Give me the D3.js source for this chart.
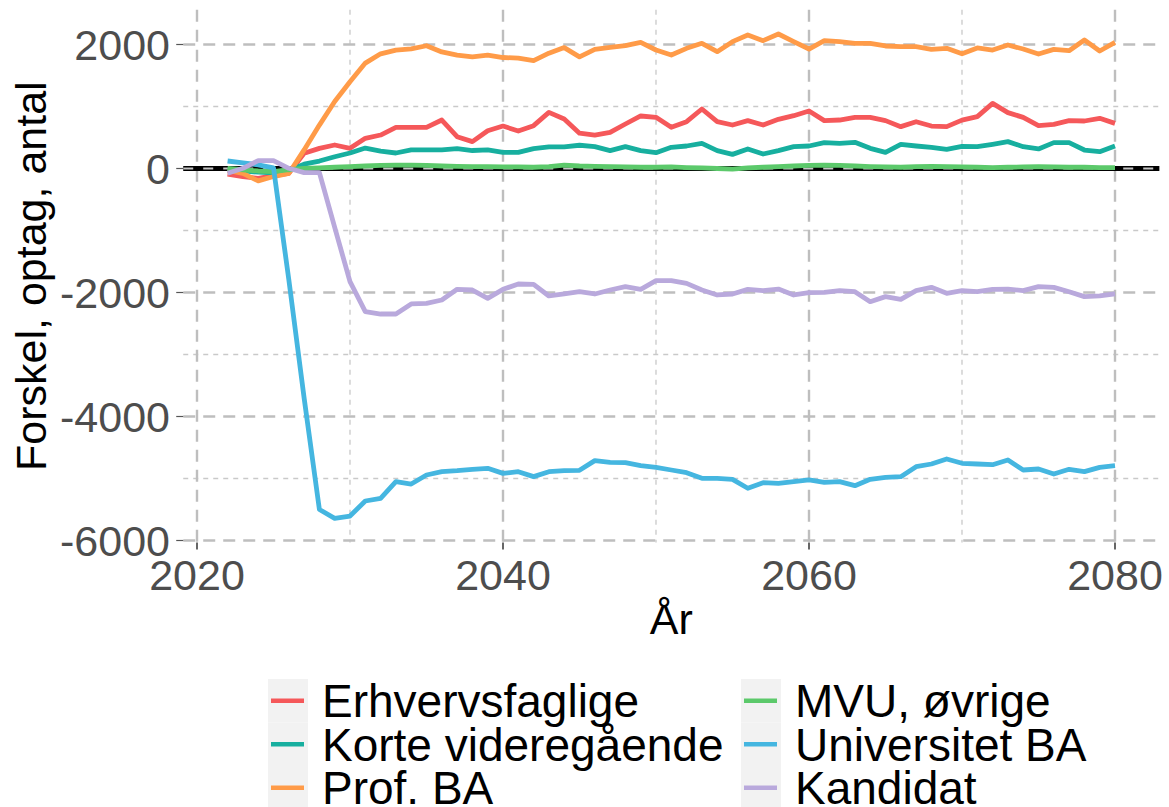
<!DOCTYPE html>
<html>
<head>
<meta charset="utf-8">
<script src="https://cdn.jsdelivr.net/npm/d3@7"></script>
<style>
  html, body { margin: 0; padding: 0; background: #fff; }
  svg { display: block; font-family: "Liberation Sans", Arial, sans-serif; }
</style>
</head>
<body>
<div id="chart"></div>
<script>
(function() {
// years 2022..2080
var years = d3.range(2022, 2081);

var seriesNames = ["Erhvervsfaglige", "Korte videregående", "Prof. BA",
                   "MVU, øvrige", "Universitet BA", "Kandidat"];
var seriesColors = ["#F5585A", "#17AF9F", "#FF9B48", "#5CC96B", "#45B6E0", "#B9A9DC"];

var erhvervsfaglige = [-89,-132,-159,-115,-78, 245,325,379,325,487, 540,664,664,664,782,
  513,433,610,685,605, 691,906,798,570,540, 583,718,847,825,664, 755,960,755,702,772,
  702,793,852,927,772, 782,825,825,772,675, 755,685,675,780,836, 1051,901,825,691,712,
  772,766,809,728];
var korte = [-20,-40,-60,-70,-30, 70,120,190,250,330, 280,250,300,300,300,
  320,290,300,260,260, 320,350,350,375,352, 288,352,288,255,341, 363,406,288,228,315,
  234,288,352,363,417, 406,422,325,261,390, 363,341,309,358,352, 390,433,352,315,417,
  417,298,272,363];
var profBA = [-30,-80,-200,-130,-80, 300,700,1080,1400,1700, 1850,1910,1930,1980,1880,
  1830,1800,1830,1790,1780, 1740,1860,1950,1800,1922, 1954,1981,2035,1911,1831,
  1938,2019,1884,2046,2153, 2062,2169,2046,1927,2062, 2046,2019,2019,1976,1965,
  1965,1922,1938,1850,1945, 1911,1992,1927,1847,1922, 1900,2073,1895,2035];
var mvu = [0,-20,-40,-50,-20, 0,10,20,30,40, 50,55,55,50,40, 35,30,30,25,25,
  20,30,55,40,35, 30,25,20,20,25, 15,10,0,-10,10, 20,30,40,50,55, 50,40,30,25,20,
  30,35,30,25,20, 15,20,25,30,25, 20,20,15,15];
var universitetBA = [121,90,60,10,-1790, -3700,-5500,-5642,-5605,-5363,
  -5320,-5051,-5089,-4944,-4890, -4874,-4852,-4836,-4917,-4890,
  -4970,-4890,-4874,-4868,-4712, -4739,-4745,-4793,-4820,-4863,
  -4906,-4997,-4997,-5013,-5158, -5067,-5078,-5051,-5024,-5062,
  -5051,-5116,-5013,-4981,-4970, -4809,-4766,-4685,-4755,-4766,
  -4777,-4702,-4863,-4847,-4928, -4852,-4890,-4820,-4793];
var kandidat = [-78,3,126,126,3, -67,-67,-950,-1825,-2309,
  -2347,-2347,-2185,-2175,-2121, -1949,-1960,-2094,-1949,-1863,
  -1868,-2056,-2024,-1987,-2024, -1960,-1906,-1949,-1809,-1809,
  -1852,-1960,-2040,-2024,-1949, -1970,-1944,-2040,-2003,-1997,
  -1970,-1987,-2148,-2067,-2110, -1970,-1917,-2013,-1970,-1987,
  -1949,-1944,-1970,-1906,-1917, -1987,-2067,-2056,-2024];

var seriesValues = [erhvervsfaglige, korte, profBA, mvu, universitetBA, kandidat];

var xTicks = [2020, 2040, 2060, 2080];
var xMinor = [2030, 2050, 2070];
var yTicks = [-6000, -4000, -2000, 0, 2000];
var yMinor = [-5000, -3000, -1000, 1000];

var width = 1169, height = 807;

var svg = d3.select("#chart").append("svg")
    .attr("width", width)
    .attr("height", height);

// scales, ggplot style 5% expansion
var x = d3.scaleLinear().domain([2020, 2080]).range([197, 1115]);
var y = d3.scaleLinear().domain([-6000, 2000]).range([540.5, 44.5]);

var allVals = d3.merge(seriesValues);
var yExt = d3.extent(allVals), yPad = (yExt[1] - yExt[0]) * 0.05;
var xPad = (years[years.length - 1] - years[0]) * 0.05;
var pLeft = x(years[0] - xPad), pRight = x(years[years.length - 1] + xPad);
var pTop = y(yExt[1] + yPad), pBottom = y(yExt[0] - yPad);

// grid
var grid = svg.append("g");
grid.selectAll(".ymin").data(yMinor).enter().append("line")
    .attr("x1", pLeft).attr("x2", pRight)
    .attr("y1", function(d) { return y(d); }).attr("y2", function(d) { return y(d); })
    .attr("stroke", "#C9C9C9").attr("stroke-width", 1.3).attr("stroke-dasharray", "5,5");
grid.selectAll(".xmin").data(xMinor).enter().append("line")
    .attr("y1", pTop).attr("y2", pBottom)
    .attr("x1", function(d) { return x(d); }).attr("x2", function(d) { return x(d); })
    .attr("stroke", "#C9C9C9").attr("stroke-width", 1.3).attr("stroke-dasharray", "5,5");
grid.selectAll(".ymaj").data(yTicks).enter().append("line")
    .attr("x1", pLeft).attr("x2", pRight)
    .attr("y1", function(d) { return y(d); }).attr("y2", function(d) { return y(d); })
    .attr("stroke", "#BEBEBE").attr("stroke-width", 2.4).attr("stroke-dasharray", "12,8");
grid.selectAll(".xmaj").data(xTicks).enter().append("line")
    .attr("y1", pTop).attr("y2", pBottom)
    .attr("x1", function(d) { return x(d); }).attr("x2", function(d) { return x(d); })
    .attr("stroke", "#BEBEBE").attr("stroke-width", 2.4).attr("stroke-dasharray", "12,8");

// zero line
svg.append("line")
    .attr("x1", pLeft).attr("x2", pRight).attr("y1", y(0)).attr("y2", y(0))
    .attr("stroke", "#000").attr("stroke-width", 5);
svg.append("line")
    .attr("x1", pLeft).attr("x2", pRight).attr("y1", y(0)).attr("y2", y(0))
    .attr("stroke", "#C4C4C4").attr("stroke-width", 2).attr("stroke-dasharray", "10,10");

// lines
var line = d3.line()
    .x(function(d, i) { return x(years[i]); })
    .y(function(d) { return y(d); });

svg.append("g").selectAll("path").data(seriesValues).enter().append("path")
    .attr("d", line)
    .attr("fill", "none")
    .attr("stroke", function(d, i) { return seriesColors[i]; })
    .attr("stroke-width", 4.8)
    .attr("stroke-linejoin", "round");

// axes
var yAxis = svg.append("g");
yAxis.selectAll("line").data(yTicks).enter().append("line")
    .attr("x1", pLeft - 7).attr("x2", pLeft)
    .attr("y1", function(d) { return y(d); }).attr("y2", function(d) { return y(d); })
    .attr("stroke", "#555").attr("stroke-width", 1.2);
yAxis.selectAll("text").data(yTicks).enter().append("text")
    .attr("x", 170)
    .attr("y", function(d) { return y(d); })
    .attr("dy", "0.36em")
    .attr("text-anchor", "end")
    .attr("font-size", 43)
    .attr("fill", "#4D4D4D")
    .text(function(d) { return d; });

var xAxis = svg.append("g");
xAxis.selectAll("line").data(xTicks).enter().append("line")
    .attr("y1", pBottom).attr("y2", pBottom + 7)
    .attr("x1", function(d) { return x(d); }).attr("x2", function(d) { return x(d); })
    .attr("stroke", "#333").attr("stroke-width", 1.5);
xAxis.selectAll("text").data(xTicks).enter().append("text")
    .attr("x", function(d) { return x(d); })
    .attr("y", 590)
    .attr("text-anchor", "middle")
    .attr("font-size", 43)
    .attr("fill", "#4D4D4D")
    .text(function(d) { return d; });

svg.append("text")
    .attr("x", (pLeft + pRight) / 2).attr("y", 634)
    .attr("text-anchor", "middle")
    .attr("font-size", 43)
    .attr("fill", "#000")
    .text("År");

svg.append("text")
    .attr("transform", "translate(46," + ((pTop + pBottom) / 2) + ") rotate(-90)")
    .attr("text-anchor", "middle")
    .attr("font-size", 43)
    .attr("fill", "#000")
    .text("Forskel, optag, antal");

// legend, 2 columns filled by column
var legX = [268, 741], legTop = 679, rowH = 43.5;
var legend = svg.append("g");
seriesNames.forEach(function(name, i) {
  var col = Math.floor(i / 3), row = i % 3;
  var kx = legX[col], ky = legTop + row * rowH;
  legend.append("rect")
      .attr("x", kx).attr("y", ky).attr("width", 40).attr("height", rowH)
      .attr("fill", "#F2F2F2");
  legend.append("line")
      .attr("x1", kx + 3).attr("x2", kx + 36)
      .attr("y1", ky + rowH / 2).attr("y2", ky + rowH / 2)
      .attr("stroke", seriesColors[i]).attr("stroke-width", 4.5);
  legend.append("text")
      .attr("x", kx + 54).attr("y", ky + rowH / 2)
      .attr("dy", "0.36em")
      .attr("font-size", 46)
      .attr("fill", "#000")
      .text(name);
});
})();
</script>
</body>
</html>
